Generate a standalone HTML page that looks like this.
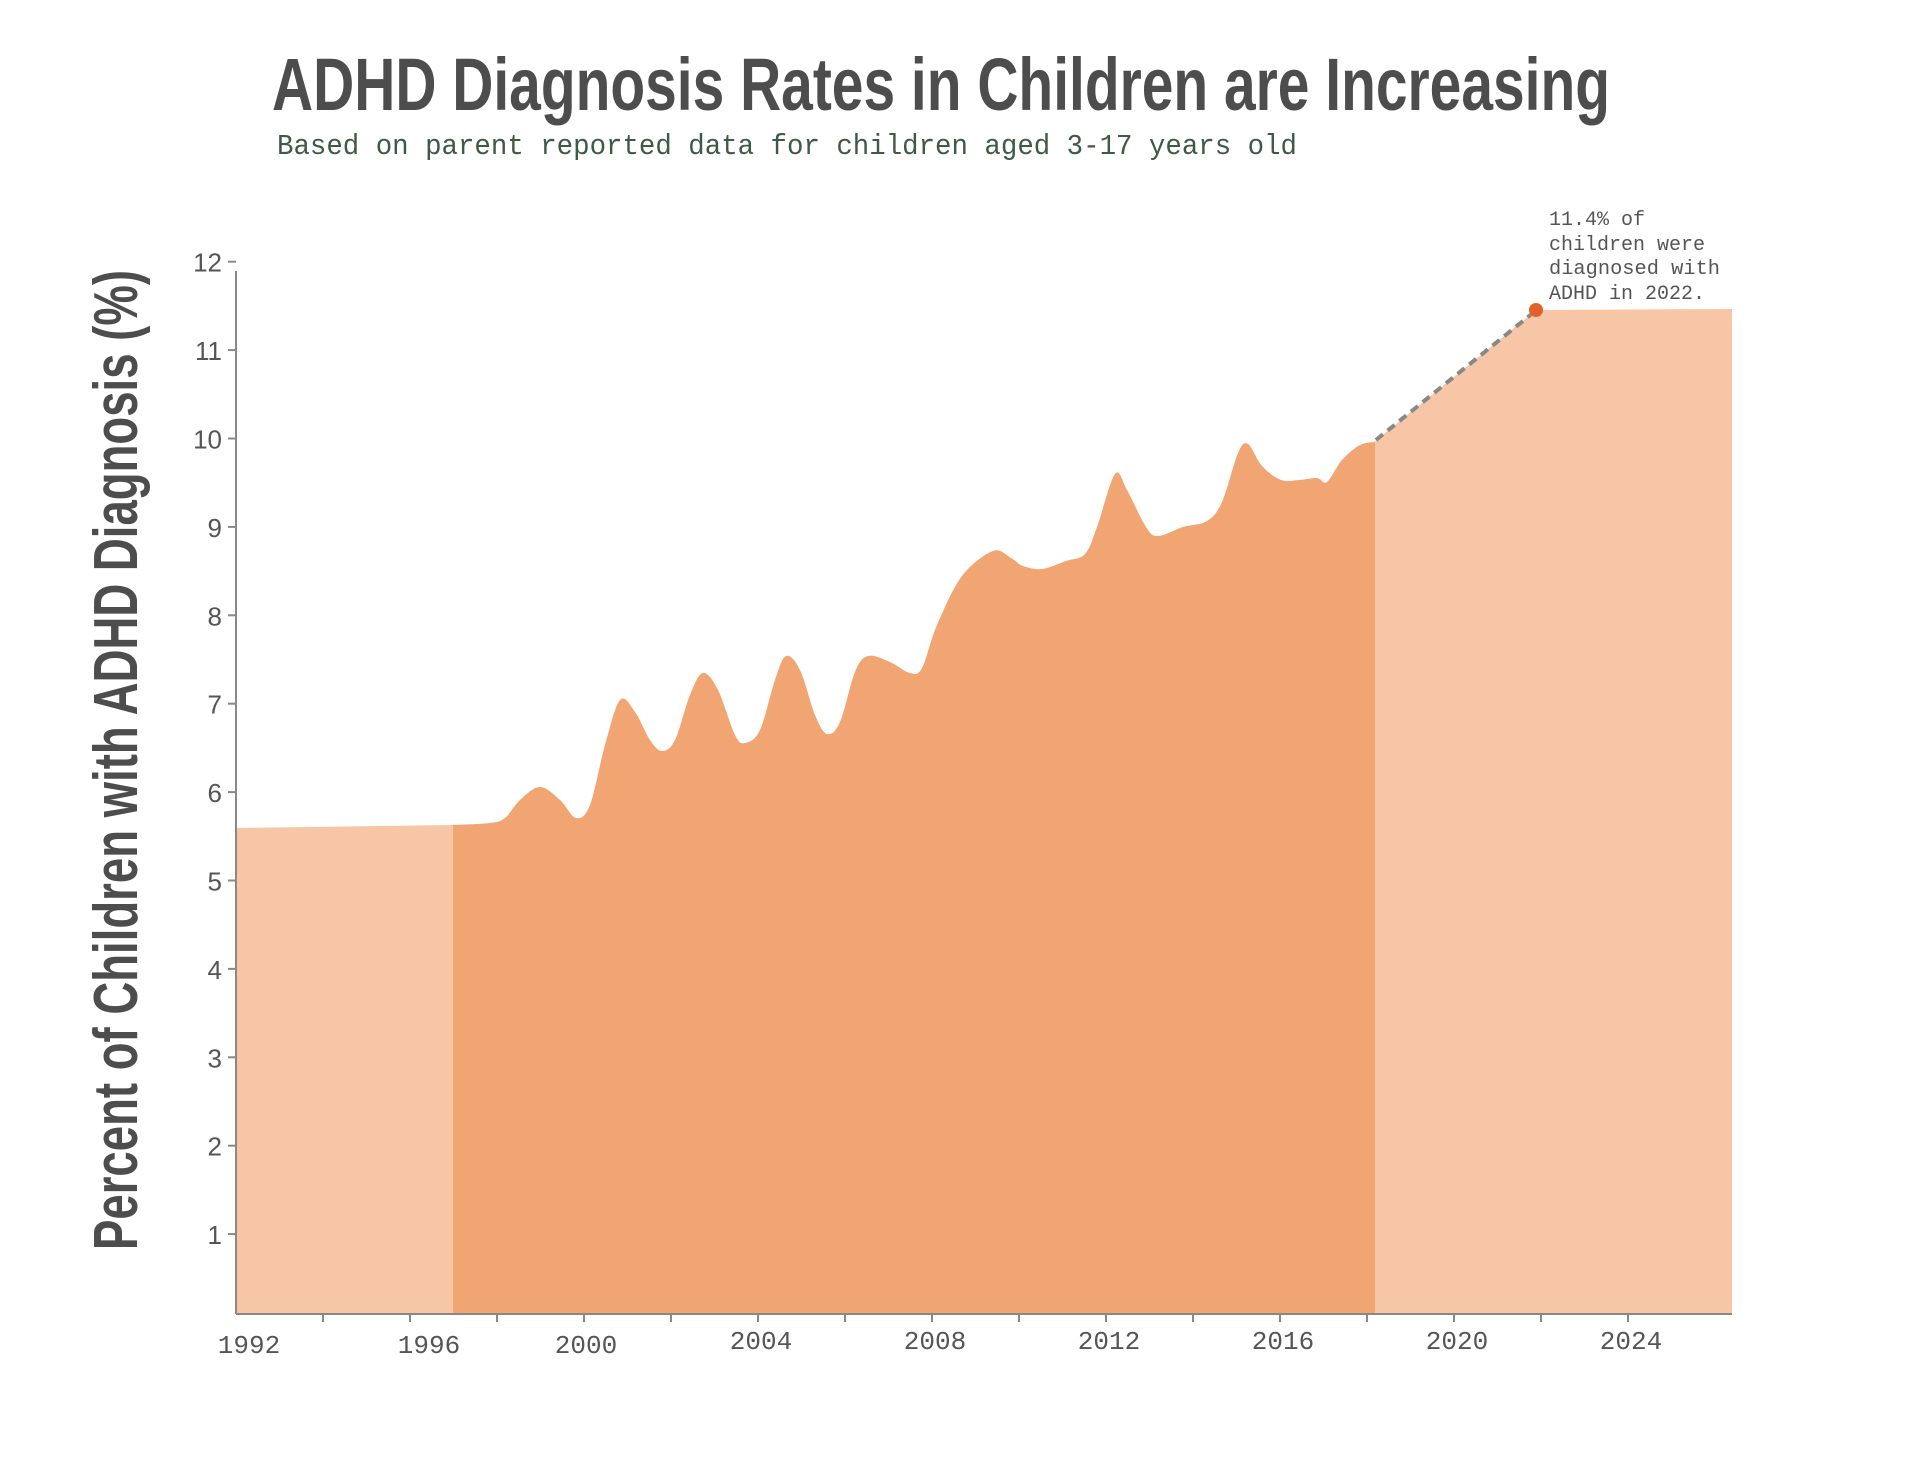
<!DOCTYPE html>
<html><head><meta charset="utf-8"><style>html,body{margin:0;padding:0;background:#fff}svg{display:block}</style></head>
<body>
<svg id="s" width="1920" height="1463" viewBox="0 0 1920 1463" xmlns="http://www.w3.org/2000/svg">
<text x="272" y="110" font-family="Liberation Sans Narrow, Liberation Sans, sans-serif" font-weight="bold" font-size="74" fill="#4d4d4d" textLength="1338" lengthAdjust="spacingAndGlyphs">ADHD Diagnosis Rates in Children are Increasing</text>
<text x="277" y="154" font-family="Liberation Mono, monospace" font-size="29" fill="#3e5a47" textLength="1020" lengthAdjust="spacingAndGlyphs">Based on parent reported data for children aged 3-17 years old</text>
<text transform="translate(137,760) rotate(-90)" text-anchor="middle" font-family="Liberation Sans Narrow, Liberation Sans, sans-serif" font-weight="bold" font-size="62" fill="#4d4d4d" textLength="980" lengthAdjust="spacingAndGlyphs">Percent of Children with ADHD Diagnosis (%)</text>
<path d="M236,828 L453,825 L453,1314 L236,1314 Z" fill="#f6c6a6"/>
<path d="M1374,442 L1536,310 L1732,309 L1732,1314 L1374,1314 Z" fill="#f6c6a6"/>
<path id="dark" fill="#f1a572" d=""/>
<line x1="1376" y1="440" x2="1534" y2="312" stroke="#888" stroke-width="4" stroke-dasharray="9 6"/>
<circle cx="1536" cy="310" r="7" fill="#e0622a"/>
<g font-family="Liberation Mono, monospace" font-size="20" fill="#555">
<text x="1549" y="225">11.4% of</text>
<text x="1549" y="250">children were</text>
<text x="1549" y="274" textLength="171" lengthAdjust="spacingAndGlyphs">diagnosed with</text>
<text x="1549" y="299">ADHD in 2022.</text>
</g>
<g id="axes" stroke="#888" stroke-width="2" fill="none">
<line x1="236" y1="271" x2="236" y2="1314"/>
<line x1="236" y1="1314" x2="1732" y2="1314"/>
</g>
<g id="yl" font-family="Liberation Sans, sans-serif" font-size="26" fill="#555" text-anchor="end"></g>
<g id="xl" font-family="Liberation Mono, monospace" font-size="26" fill="#555" text-anchor="middle"></g>
</svg>
<script>
var pts=[[453,825],[490,823],[505,818],[520,800],[540,787],[560,800],[576,818],[590,805],[605,745],[620,700],[635,712],[650,740],[662,751],[675,740],[690,695],[703,673],[718,690],[735,735],[745,743],[760,730],[775,680],[786,656],[800,670],[815,715],[827,734],[840,722],[855,672],[868,656],[890,662],[910,673],[922,668],[937,625],[962,576],[993,551],[1011,558],[1023,566],[1042,569],[1066,561],[1085,554],[1097,527],[1115,474],[1127,490],[1146,527],[1158,536],[1183,527],[1207,521],[1222,502],[1238,453],[1248,444],[1262,466],[1281,480],[1299,480],[1317,478],[1327,482],[1342,460],[1360,445],[1375,442]];
var d="M453,1314 L"+pts[0][0]+","+pts[0][1];
for(var i=0;i<pts.length-1;i++){var p0=pts[Math.max(0,i-1)],p1=pts[i],p2=pts[i+1],p3=pts[Math.min(pts.length-1,i+2)];
var c1=[p1[0]+(p2[0]-p0[0])/6,p1[1]+(p2[1]-p0[1])/6],c2=[p2[0]-(p3[0]-p1[0])/6,p2[1]-(p3[1]-p1[1])/6];
d+=" C"+c1[0]+","+c1[1]+" "+c2[0]+","+c2[1]+" "+p2[0]+","+p2[1];}
d+=" L1375,1314 Z";document.getElementById("dark").setAttribute("d",d);
var ns="http://www.w3.org/2000/svg",ax=document.getElementById("axes"),yl=document.getElementById("yl"),xl=document.getElementById("xl");
for(var v=1;v<=12;v++){var y=1322.5-88.4*v;var l=document.createElementNS(ns,"line");l.setAttribute("x1",228);l.setAttribute("x2",236);l.setAttribute("y1",y);l.setAttribute("y2",y);ax.appendChild(l);
var t=document.createElementNS(ns,"text");t.setAttribute("x",222);t.setAttribute("y",y+10);t.textContent=v;yl.appendChild(t);}
for(var k=1;k<=16;k++){var x=236+87*k;var l=document.createElementNS(ns,"line");l.setAttribute("x1",x);l.setAttribute("x2",x);l.setAttribute("y1",1314);l.setAttribute("y2",1322);ax.appendChild(l);}
var yrs=[1992,1996,2000,2004,2008,2012,2016,2020,2024];
var xs=[249,429,586];
for(var j=0;j<yrs.length;j++){var x=j<3?xs[j]:236+43.5*(yrs[j]-1992)+3;
var t=document.createElementNS(ns,"text");t.setAttribute("x",x);t.setAttribute("y",j<3?1353:1349);t.textContent=yrs[j];xl.appendChild(t);}
</script>
</body></html>
